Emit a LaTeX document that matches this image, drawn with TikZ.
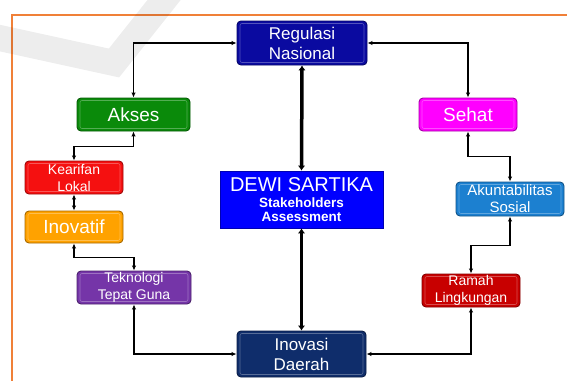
\documentclass[tikz,border=0pt]{standalone}
\usepackage{fontspec}
\setmainfont{Liberation Sans}
\usetikzlibrary{arrows.meta}

\definecolor{regblue}{HTML}{0A0AA0}
\definecolor{aksesgreen}{HTML}{0A8A0A}
\definecolor{sehatpink}{HTML}{FF00FF}
\definecolor{kearifanred}{HTML}{F51010}
\definecolor{inovatiforange}{HTML}{FFA200}
\definecolor{tekpurple}{HTML}{7535A8}
\definecolor{daerahnavy}{HTML}{0F2D6B}
\definecolor{dewiblue}{HTML}{0000FF}
\definecolor{akunblue}{HTML}{1C80D0}
\definecolor{ramahred}{HTML}{C80000}
\definecolor{frameorange}{HTML}{F08038}

\newcommand{\fs}[2]{\fontsize{#1}{#2}\selectfont}

\begin{document}
\begin{tikzpicture}[x=1pt,y=-1pt,
	box/.style={rounded corners=4pt,draw=#1!65!black,fill=#1,line width=0.9pt,text=white,align=center,inner sep=0pt,
		path picture={\draw[white,opacity=.3,line width=.6pt,rounded corners=2pt]
			([shift={(3pt,2.5pt)}]path picture bounding box.south west) rectangle
			([shift={(-3pt,-2.5pt)}]path picture bounding box.north east);}},
	link/.style={{Latex[length=5pt,width=4.5pt]}-{Latex[length=5pt,width=4.5pt]},line width=1.1pt},
	mainlink/.style={{Latex[length=5pt,width=7.5pt]}-{Latex[length=5pt,width=7.5pt]},line width=3.5pt}]
	\useasboundingbox (0,0) rectangle (567,380);
	% frame and watermark
	\draw[frameorange,line width=1.6pt] (575,15) -- (12,15) -- (12,390);
	\draw[black,opacity=.07,line width=26pt,line join=miter] (-5,37) -- (114,63) -- (172,-10);
	% boxes
	\node[box=regblue,minimum width=130pt,minimum height=44pt,font=\fs{17}{20}] (reg) at (302,43) {Regulasi\\Nasional};
	\node[box=aksesgreen,minimum width=113pt,minimum height=33pt,font=\fs{19}{22}] (akses) at (133.5,114.5) {Akses};
	\node[box=sehatpink,minimum width=98pt,minimum height=33pt,font=\fs{19}{22}] (sehat) at (468,114.5) {Sehat};
	\node[box=kearifanred,minimum width=98pt,minimum height=33pt,font=\fs{14}{17}] (kearifan) at (74,177.5) {Kearifan\\Lokal};
	\node[box=inovatiforange,minimum width=98pt,minimum height=32pt,font=\fs{19}{22}] (inovatif) at (74,227) {Inovatif};
	\node[box=tekpurple,minimum width=114pt,minimum height=33pt,font=\fs{14}{17}] (tek) at (134,287.5) {Teknologi\\Tepat Guna};
	\node[box=daerahnavy,minimum width=129pt,minimum height=46pt,font=\fs{17}{20}] (daerah) at (301.5,354) {Inovasi\\Daerah};
	\node[box=akunblue,minimum width=108pt,minimum height=34pt,font=\fs{15}{17}] (akun) at (510,199) {Akuntabilitas\\Sosial};
	\node[box=ramahred,minimum width=98pt,minimum height=33pt,font=\fs{14}{17}] (ramah) at (471,290.5) {Ramah\\Lingkungan};
	\node[fill=dewiblue,draw=dewiblue!70!black,line width=0.8pt,text=white,align=center,inner sep=0pt,
		minimum width=163pt,minimum height=57pt,font=\fs{13.5}{13.5}\bfseries] (dewi) at (301.5,199.5)
		{\fs{20}{22}\mdseries DEWI SARTIKA\\[3pt]Stakeholders\\Assessment};
	% connectors
	\draw[link] (reg.west) -| (akses.north);
	\draw[link] (reg.east) -| (sehat.north);
	\draw[link] (akses.south) -- ++(0,15) -| (kearifan.north);
	\draw[link] (kearifan.south) -- (inovatif.north);
	\draw[link] (inovatif.south) -- ++(0,14) -| (tek.north);
	\draw[link] (tek.south) |- (daerah.west);
	\draw[link] (sehat.south) -- ++(0,25) -| (akun.north);
	\draw[link] (akun.south) -- ++(0,29) -| (ramah.north);
	\draw[link] (ramah.south) |- (daerah.east);
	\draw[mainlink] (dewi.north) -- (reg.south);
	\draw[mainlink] (dewi.south) -- (daerah.north);
\end{tikzpicture}
\end{document}
